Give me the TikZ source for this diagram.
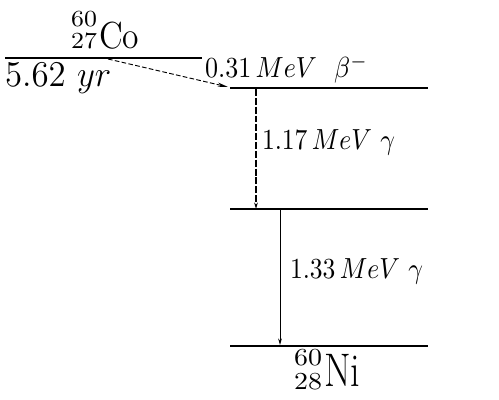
\documentclass[tikz,border=0pt]{standalone}
\usetikzlibrary{arrows.meta}
\begin{document}
\begin{tikzpicture}[x=0.43pt,y=-0.43pt,
  level/.style={line width=0.8pt},
  trans/.style={line width=0.4pt,-{Stealth[length=4.5pt,width=1.8pt]}},
  lbl/.style={anchor=base west,inner sep=0pt,outer sep=0pt},
  lble/.style={anchor=base east,inner sep=0pt,outer sep=0pt}]
\useasboundingbox (0,0) rectangle (499,400);
% levels
\coordinate (coL) at (5,58); \coordinate (coR) at (202,58);
\coordinate (l1L) at (230,88); \coordinate (l1R) at (428,88);
\coordinate (l2L) at (230,209); \coordinate (l2R) at (428,209);
\coordinate (l3L) at (230,346); \coordinate (l3R) at (428,346);
\draw[level] (coL) -- (coR);
\draw[level] (l1L) -- (l1R);
\draw[level] (l2L) -- (l2R);
\draw[level] (l3L) -- (l3R);
% Co label
\node[lble] (coA) at (97,27) {\scalebox{1.2}[1.1]{\fontsize{9}{10}\selectfont 60}};
\node[lble] (coZ) at (97,49) {\scalebox{1.2}[1.1]{\fontsize{9}{10}\selectfont 27}};
\node[lbl] (co) at (99,49) {\scalebox{1.2}[1.35]{\large Co}};
\node[lbl] (half) at (5,87) {\scalebox{1.25}[1.3]{\large $5.62\ yr$}};
% transition labels
\node[lbl] (beta) at (205,78) {\scalebox{1.12}[1.25]{$0.31\,MeV\ \ \beta^-$}};
\node[lbl] (g1) at (262,150) {\scalebox{1.1}[1.25]{$1.17\,MeV\ \gamma$}};
\node[lbl] (g2) at (290,279) {\scalebox{1.1}[1.25]{$1.33\,MeV\ \gamma$}};
% Ni label
\node[lble] (niA) at (322,365) {\scalebox{1.2}[1.05]{\fontsize{10}{12}\selectfont 60}};
\node[lble] (niZ) at (322,389) {\scalebox{1.2}[1.05]{\fontsize{10}{12}\selectfont 28}};
\node[lbl] (ni) at (324,386) {\scalebox{1.1}[1.35]{\fontsize{15}{18}\selectfont Ni}};
% transitions
\coordinate (bS) at (108,59); \coordinate (bE) at (228,87);
\draw[trans,dash pattern=on 2pt off 1pt] (bS) -- (bE);
\coordinate (g1S) at (256,89); \coordinate (g1E) at (256,209);
\draw[trans,line width=0.55pt,dash pattern=on 3pt off 0.8pt,-{Stealth[length=2.8pt,width=1.6pt]}] (g1S) -- (g1E);
\coordinate (g2S) at (280,210); \coordinate (g2E) at (280,345);
\draw[trans,-{Stealth[length=2.8pt,width=1.6pt]}] (g2S) -- (g2E);
\end{tikzpicture}
\end{document}
